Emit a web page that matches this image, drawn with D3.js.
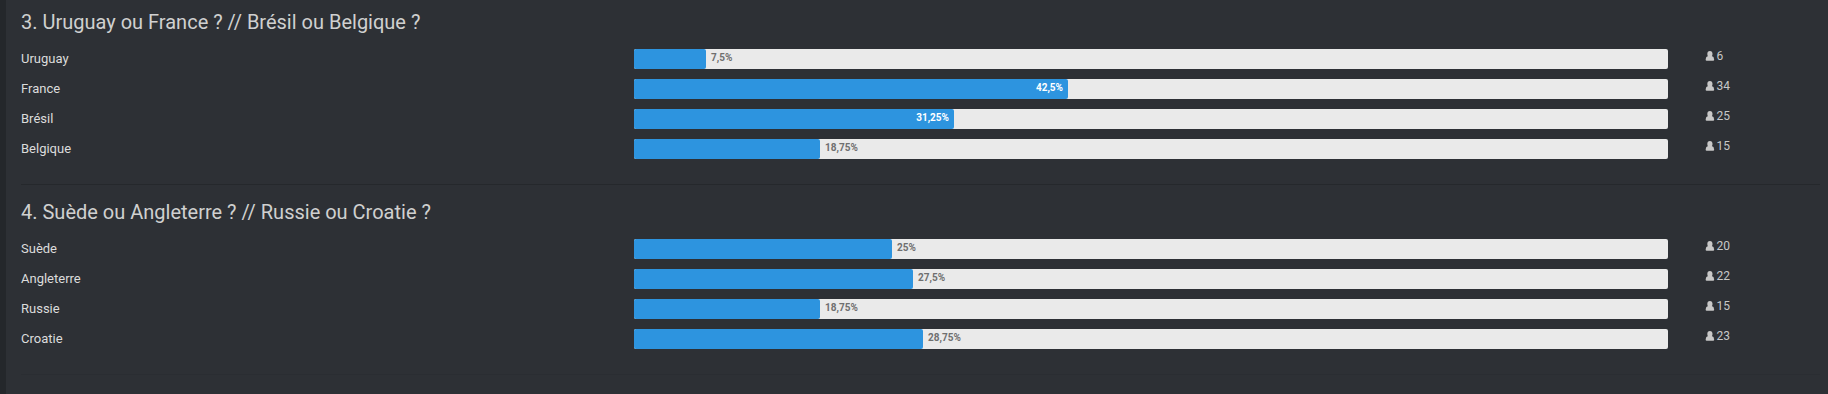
<!DOCTYPE html>
<html>
<head>
<meta charset="utf-8">
<script src="https://cdn.jsdelivr.net/npm/d3@7"></script>
<style>
  html, body { margin: 0; padding: 0; background: #2d3035; overflow: hidden; }
  text { font-family: Roboto, sans-serif; }
</style>
</head>
<body>
<div id="chart"></div>
<script>
var titles = ["3. Uruguay ou France ? // Brésil ou Belgique ?", "4. Suède ou Angleterre ? // Russie ou Croatie ?"];

var categories3 = ["Uruguay", "France", "Brésil", "Belgique"];
var percents3 = [7.5, 42.5, 31.25, 18.75];
var labels3 = ["7,5%", "42,5%", "31,25%", "18,75%"];
var votes3 = [6, 34, 25, 15];

var categories4 = ["Suède", "Angleterre", "Russie", "Croatie"];
var percents4 = [25, 27.5, 18.75, 28.75];
var labels4 = ["25%", "27,5%", "18,75%", "28,75%"];
var votes4 = [20, 22, 15, 23];

var w = 1828;
var h = 394;

var svg = d3.select("#chart").append("svg")
  .attr("width", w)
  .attr("height", h)
  .style("display", "block");

svg.append("rect")
  .attr("width", 6)
  .attr("height", h)
  .attr("fill", "#24272b");

// the site floors the bar width to a whole percent, the label keeps the decimals
var x = d3.scaleLinear().domain([0, 100]).range([634, 1668]);

function barEnd(d) {
  return Math.floor(x(Math.floor(d)));
}

function drawGroup(title, categories, percents, labels, votes, top, lineColor) {
  var y = d3.scaleBand()
    .domain(categories)
    .range([top + 49, top + 159])
    .paddingInner(1 / 3);

  svg.append("text")
    .text(title)
    .attr("x", 21)
    .attr("y", top + 29)
    .attr("font-size", "20px")
    .attr("fill", "#d0d0d0");

  svg.append("g").selectAll("text")
    .data(categories)
    .enter()
    .append("text")
    .text(function(d) { return d; })
    .attr("x", 21)
    .attr("y", function(d) { return y(d) + 14; })
    .attr("font-size", "13px")
    .attr("fill", "#dcdcdc");

  svg.append("g").selectAll("rect")
    .data(categories)
    .enter()
    .append("rect")
    .attr("x", x(0))
    .attr("y", function(d) { return y(d); })
    .attr("width", x(100) - x(0))
    .attr("height", y.bandwidth())
    .attr("rx", 2)
    .attr("fill", "#eaeaea");

  svg.append("g").selectAll("rect")
    .data(percents)
    .enter()
    .append("rect")
    .attr("x", x(0))
    .attr("y", function(d, i) { return y(categories[i]); })
    .attr("width", function(d) { return barEnd(d) - x(0); })
    .attr("height", y.bandwidth())
    .attr("rx", 2)
    .attr("fill", "#2d94df");

  svg.append("g").selectAll("text")
    .data(percents)
    .enter()
    .append("text")
    .text(function(d, i) { return labels[i]; })
    .attr("x", function(d) {
      return d > 30 ? barEnd(d) - 5 : barEnd(d) + 5;
    })
    .attr("y", function(d, i) { return y(categories[i]) + 12; })
    .attr("text-anchor", function(d) { return d > 30 ? "end" : "start"; })
    .attr("font-size", "10px")
    .attr("font-weight", 700)
    .attr("fill", function(d) { return d > 30 ? "#ffffff" : "#6f6f6f"; });

  // little user icon in front of the vote count
  var icons = svg.append("g").selectAll("g")
    .data(votes)
    .enter()
    .append("g")
    .attr("transform", function(d, i) {
      return "translate(1705.7," + (y(categories[i]) + 2) + ")";
    })
    .attr("fill", "#c8c8c8");

  icons.append("ellipse")
    .attr("cx", 4.2)
    .attr("cy", 2.9)
    .attr("rx", 2.6)
    .attr("ry", 2.9);

  icons.append("path")
    .attr("d", "M0 8.2 Q0 5.6 2.4 5 L6 5 Q8.4 5.6 8.4 8.2 L8.4 9 Q8.4 9.8 7.5 9.8 L0.9 9.8 Q0 9.8 0 9 Z");

  svg.append("g").selectAll("text")
    .data(votes)
    .enter()
    .append("text")
    .text(function(d) { return d; })
    .attr("x", 1716.5)
    .attr("y", function(d, i) { return y(categories[i]) + 11; })
    .attr("font-size", "12px")
    .attr("fill", "#c8c8c8");

  svg.append("line")
    .attr("x1", 21)
    .attr("x2", 1820)
    .attr("y1", top + 184.5)
    .attr("y2", top + 184.5)
    .attr("stroke", lineColor);
}

drawGroup(titles[0], categories3, percents3, labels3, votes3, 0, "#25282c");
drawGroup(titles[1], categories4, percents4, labels4, votes4, 190, "#2a2d32");
</script>
</body>
</html>
